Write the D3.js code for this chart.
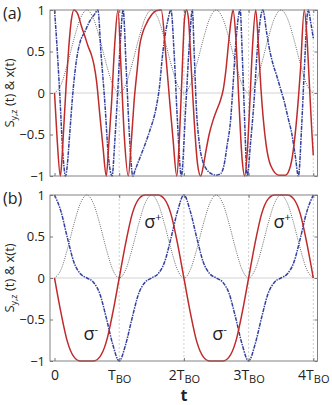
<!DOCTYPE html>
<html>
<head>
<meta charset="utf-8" />
<script src="https://cdn.jsdelivr.net/npm/d3@7"></script>
<style>
body { margin: 0; background: #fff; }
svg { display: block; }
text { font-family: "Open Sans", "Liberation Sans", sans-serif; fill: #222; }
.tick line { stroke: #777; }
.domain { display: none; }
</style>
</head>
<body>
<script>
// ---- panel (b): regular grid, t in units of T_BO ----
var tB = [0,0.1,0.2,0.3,0.4,0.5,0.6,0.7,0.8,0.9,1,1.1,1.2,1.3,1.4,1.5,1.6,1.7,1.8,1.9,2,
          2.1,2.2,2.3,2.4,2.5,2.6,2.7,2.8,2.9,3,3.1,3.2,3.3,3.4,3.5,3.6,3.7,3.8,3.9,4];
var bRed = [0,-0.42,-0.77,-0.95,-1,-1,-1,-0.95,-0.77,-0.42,0,0.42,0.77,0.95,1,1,1,0.95,0.77,0.42,0,
            -0.42,-0.77,-0.95,-1,-1,-1,-0.95,-0.77,-0.42,0,0.42,0.77,0.95,1,1,1,0.95,0.77,0.42,0];
var bBlue = [1,0.8,0.48,0.19,0.05,0,-0.05,-0.19,-0.48,-0.8,-1,-0.8,-0.48,-0.19,-0.05,0,0.05,0.19,0.48,0.8,1,
             0.8,0.48,0.19,0.05,0,-0.05,-0.19,-0.48,-0.8,-1,-0.8,-0.48,-0.19,-0.05,0,0.05,0.19,0.48,0.8,1];
var xPos = [0,0.1,0.35,0.65,0.9,1,0.9,0.65,0.35,0.1,0,0.1,0.35,0.65,0.9,1,0.9,0.65,0.35,0.1,0,
            0.1,0.35,0.65,0.9,1,0.9,0.65,0.35,0.1,0,0.1,0.35,0.65,0.9,1,0.9,0.65,0.35,0.1,0];

// ---- panel (a): as [t, value] ----
var aRed = [[0,0],[0.04,-0.55],[0.09,-1],[0.11,-0.85],[0.14,-0.45],[0.18,0.1],[0.22,0.55],[0.26,0.88],
  [0.30,1],[0.36,0.95],[0.41,0.82],[0.47,0.68],[0.52,0.56],[0.57,0.46],[0.61,0.34],[0.65,0.14],
  [0.70,-0.26],[0.75,-0.66],[0.80,-1],[0.84,-0.6],[0.88,-0.14],[0.93,0.58],[0.98,1],[1.03,0.26],
  [1.08,-0.54],[1.14,-1],[1.19,-0.55],[1.23,-0.1],[1.28,0.3],[1.31,0.54],[1.36,0.72],[1.41,0.82],
  [1.49,0.93],[1.57,0.99],[1.65,1],[1.72,0.46],[1.78,-0.1],[1.83,-0.54],[1.89,-1],[1.93,-0.55],
  [1.97,0.2],[2.01,0.9],[2.04,1],[2.07,0.9],[2.11,0.35],[2.16,-0.35],[2.21,-0.85],[2.26,-1],
  [2.30,-0.88],[2.34,-0.7],[2.39,-0.5],[2.45,-0.33],[2.50,-0.22],[2.56,-0.1],[2.61,0.05],[2.65,0.28],
  [2.69,0.6],[2.73,0.88],[2.76,1],[2.80,0.7],[2.85,-0.1],[2.90,-0.8],[2.94,-1],[2.98,-0.7],
  [3.02,-0.1],[3.06,0.55],[3.11,1],[3.15,0.6],[3.19,0.06],[3.27,-0.62],[3.34,-0.87],[3.47,-0.99],
  [3.57,-0.99],[3.65,-0.87],[3.73,-0.42],[3.80,0.26],[3.86,1],[3.90,0.7],[3.94,0.1],[3.98,-0.5],[4.0,-0.75]];
var aBlue = [[0,1],[0.03,0.66],[0.08,0],[0.13,-0.74],[0.17,-1],[0.20,-0.85],[0.23,-0.54],[0.29,0.06],
  [0.34,0.4],[0.39,0.6],[0.47,0.74],[0.54,0.86],[0.62,0.95],[0.67,1],[0.72,0.46],[0.78,-0.14],
  [0.83,-0.74],[0.89,-1],[0.93,-0.6],[0.98,0.06],[1.02,0.65],[1.06,1],[1.11,0.26],[1.16,-0.54],
  [1.21,-1],[1.25,-0.92],[1.30,-0.82],[1.36,-0.7],[1.47,-0.46],[1.57,-0.18],[1.62,0.06],[1.67,0.46],
  [1.75,0.87],[1.80,1],[1.85,0.46],[1.90,-0.34],[1.96,-1],[2.03,-0.14],[2.09,0.66],[2.13,1],
  [2.16,0.46],[2.19,-0.14],[2.24,-0.62],[2.29,-0.82],[2.35,-0.92],[2.42,-0.97],[2.50,-0.99],[2.57,-0.97],
  [2.62,-0.87],[2.67,-0.62],[2.72,-0.34],[2.76,0.1],[2.80,0.58],[2.87,1],[2.90,0.5],[2.93,-0.14],
  [2.98,-1],[3.03,-0.6],[3.08,-0.14],[3.14,0.58],[3.22,1],[3.28,0.72],[3.33,0.5],[3.38,0.34],
  [3.43,0.22],[3.49,0.06],[3.55,-0.1],[3.61,-0.3],[3.67,-0.5],[3.72,-0.75],[3.77,-1],[3.82,-0.4],
  [3.86,0.26],[3.92,1],[3.96,0.85],[4.0,0.66]];

var yTicks = [-1, -0.5, 0, 0.5, 1];
var xTicks = [0, 1, 2, 3, 4];
var xTickPre = ["0", "T", "2T", "3T", "4T"];

var W = 332, H = 405;
var left = 50, right = 317.5;

var svg = d3.select("body").append("svg")
    .attr("width", W).attr("height", H);

var x = d3.scaleLinear().domain([-0.07, 4.065]).range([left, right]);

var line = function(y) {
  return d3.line()
    .x(function(d) { return x(d[0]); })
    .y(function(d) { return y(d[1]); })
    .curve(d3.curveMonotoneX);
};

function panel(top, bottom, name, red, blue, black, showX) {
  var y = d3.scaleLinear().domain([-1, 1]).range([bottom, top]);
  var g = svg.append("g");

  var clipId = "clip" + name;
  svg.append("clipPath").attr("id", clipId)
    .append("rect").attr("x", left).attr("y", top - 1)
    .attr("width", right - left).attr("height", bottom - top + 2);

  // grid
  g.selectAll("line.vg").data([1, 2, 3, 4]).enter().append("line")
    .attr("class", "vg")
    .attr("x1", function(d) { return x(d); }).attr("x2", function(d) { return x(d); })
    .attr("y1", top).attr("y2", bottom)
    .attr("stroke", "#bbb").attr("stroke-width", 0.7).attr("stroke-dasharray", "2,2");
  g.append("line")
    .attr("x1", left).attr("x2", right).attr("y1", y(0)).attr("y2", y(0))
    .attr("stroke", "#c8c8c8").attr("stroke-width", 0.8);

  var c = g.append("g").attr("clip-path", "url(#" + clipId + ")");
  c.append("path").datum(black)
    .attr("d", line(y)).attr("fill", "none")
    .attr("stroke", "#444").attr("stroke-width", 0.8).attr("stroke-dasharray", "1,1.2");
  c.append("path").datum(blue)
    .attr("d", line(y)).attr("fill", "none")
    .attr("stroke", "#33409e").attr("stroke-width", 1.5).attr("stroke-dasharray", "4,1,1.5,1");
  c.append("path").datum(red)
    .attr("d", line(y)).attr("fill", "none")
    .attr("stroke", "#bf2a2a").attr("stroke-width", 1.5);

  // axes (inside ticks, MATLAB style)
  g.append("g").attr("transform", "translate(" + left + ",0)")
    .call(d3.axisLeft(y).tickValues(yTicks).tickSize(-3).tickPadding(5)
      .tickFormat(function(d) { return d == 0 ? "0" : d3.format("")(d); }))
    .selectAll("text").attr("font-size", 13);
  g.append("g").attr("transform", "translate(" + right + ",0)")
    .call(d3.axisRight(y).tickValues(yTicks).tickSize(-3).tickFormat(""));
  var xb = g.append("g").attr("transform", "translate(0," + bottom + ")")
    .call(d3.axisBottom(x).tickValues(xTicks).tickSize(-3).tickPadding(6).tickFormat(""));
  g.append("g").attr("transform", "translate(0," + top + ")")
    .call(d3.axisTop(x).tickValues(xTicks).tickSize(-3).tickFormat(""));

  if (showX) {
    xb.selectAll(".tick text").each(function(d, i) {
      var t = d3.select(this).attr("font-size", 14).attr("dy", "0.9em");
      t.append("tspan").text(xTickPre[i]);
      if (i > 0) t.append("tspan").attr("font-size", 11).attr("dy", 3).text("BO");
    });
  }

  g.append("rect").attr("x", left).attr("y", top)
    .attr("width", right - left).attr("height", bottom - top)
    .attr("fill", "none").attr("stroke", "#777").attr("stroke-width", 0.9);

  // y label
  var yl = g.append("text")
    .attr("transform", "translate(14," + ((top + bottom) / 2) + ") rotate(-90)")
    .attr("text-anchor", "middle").attr("font-size", 13);
  yl.append("tspan").text("S");
  yl.append("tspan").attr("font-size", 9).attr("dy", 3).text("y,z");
  yl.append("tspan").attr("dy", -3).text(" (t)  &  x(t)");

  g.append("text").attr("x", 3).attr("y", top + 9)
    .attr("font-size", 16).text("(" + name + ")");
  return y;
}

panel(10, 176, "a", aRed, aBlue, d3.zip(tB, xPos), false);
var yb = panel(195, 361, "b", d3.zip(tB, bRed), d3.zip(tB, bBlue), d3.zip(tB, xPos), true);

// sigma annotations
var notes = [
  {t: 1.52, v: 0.6, s: "+"}, {t: 3.52, v: 0.6, s: "+"},
  {t: 0.56, v: -0.75, s: "-"}, {t: 2.55, v: -0.75, s: "-"}
];
notes.forEach(function(n) {
  var tx = svg.append("text").attr("x", x(n.t)).attr("y", yb(n.v))
    .attr("text-anchor", "middle").attr("font-size", 18);
  tx.append("tspan").text("\u03c3");
  tx.append("tspan").attr("font-size", 11).attr("dy", -7).text(n.s);
});

svg.append("text").attr("x", x(2)).attr("y", 401)
  .attr("text-anchor", "middle").attr("font-size", 16).attr("font-weight", "bold").text("t");
</script>
</body>
</html>
